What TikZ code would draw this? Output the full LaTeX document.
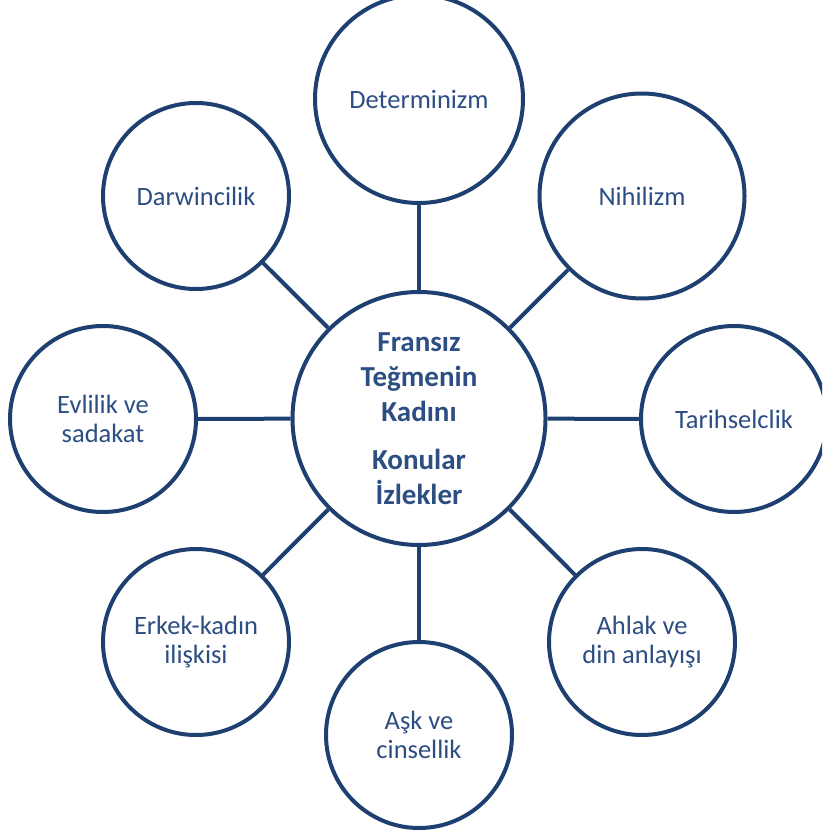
\documentclass[tikz,border=0pt]{standalone}
\usepackage{fontspec}
\setmainfont{Carlito}
\definecolor{ringblue}{RGB}{30,64,112}
\definecolor{labelblue}{RGB}{44,78,130}
\begin{document}
\begin{tikzpicture}[x=1pt,y=-1pt,
  ring/.style={circle,draw=ringblue,line width=4pt,fill=white,inner sep=0pt,
    text=labelblue,align=center,font=\fontsize{26.5}{29}\selectfont},
  small/.style={ring,minimum size=186pt},
  big/.style={ring,minimum size=208pt},
  hub/.style={ring,minimum size=253pt,font=\fontsize{29}{35}\selectfont\bfseries},
  spoke/.style={draw=ringblue,line width=4pt}]
\useasboundingbox (0,0) rectangle (822,834);
\clip (0,0) rectangle (822,834);
% central topic
\node[hub] (c) at (419,418.5) {Fransız\\Teğmenin\\Kadını\\[13pt]Konular\\İzlekler};
% surrounding themes
\node[big]   (det) at (419,99)  {Determinizm};
\node[ring,minimum size=205pt] (nih) at (642,196) {Nihilizm};
\node[small] (dar) at (196,196) {Darwincilik};
\node[small] (tar) at (734,419) {Tarihselclik};
\node[small] (evl) at (103,419) {Evlilik ve\\sadakat};
\node[small] (erk) at (196,642) {Erkek-kadın\\ilişkisi};
\node[small] (ahl) at (642,642) {Ahlak ve\\din anlayışı};
\node[small] (ask) at (419,735) {Aşk ve\\cinsellik};
% spokes from the hub
\foreach \n in {det,nih,dar,tar,evl,erk,ahl,ask}
  \draw[spoke] (c) -- (\n);
\end{tikzpicture}
\end{document}
